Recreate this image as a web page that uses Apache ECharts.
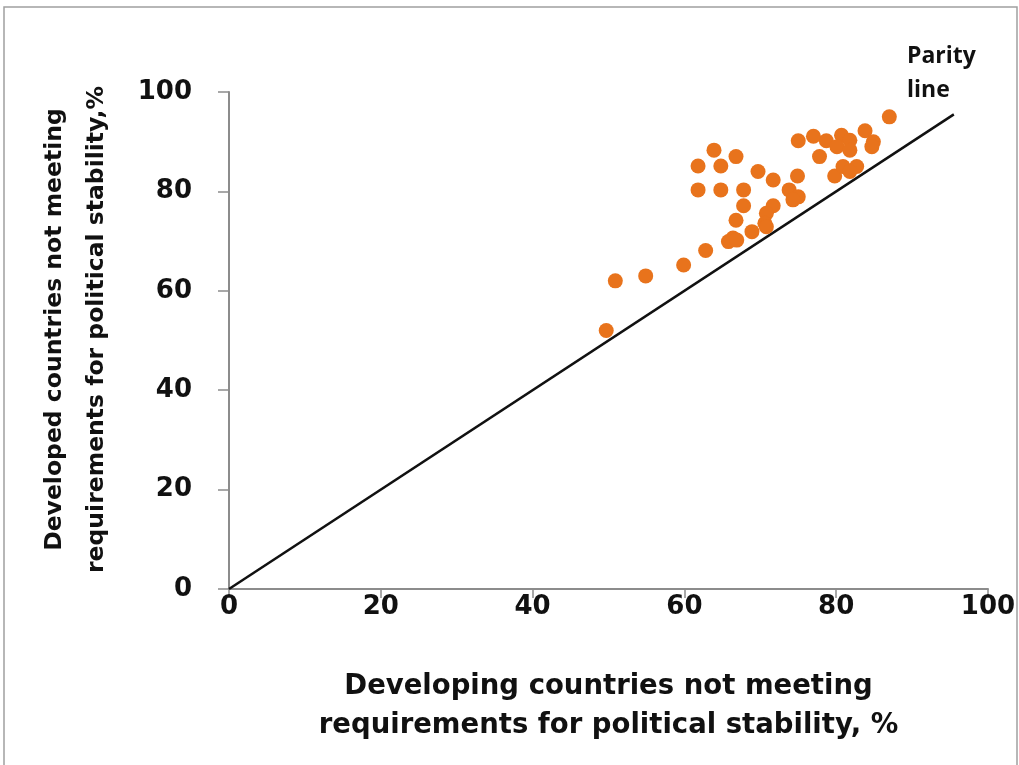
<!DOCTYPE html>
<html><head><meta charset="utf-8">
<script src="https://cdn.jsdelivr.net/npm/echarts@6/dist/echarts.min.js"></script>
<style>html,body{margin:0;padding:0;background:#fff}#c{width:1019px;height:765px}</style>
</head><body><div id="c"></div>
<script>
const developing = [87,75,77,78.7,80.7,81.8,83.8,84.9,84.7,80.1,81.8,77.8,79.8,80.9,82.7,81.8,74.9,63.9,66.8,61.8,64.8,69.7,71.7,61.8,64.8,67.8,73.8,75,74.3,67.8,71.7,70.8,66.8,70.6,70.8,68.9,66.4,65.8,66.9,62.8,59.9,54.9,50.9,49.7];
const developed  = [95,90.2,91.1,90.2,91.3,90.3,92.2,90,89,89,88.3,87,83.1,85,85,84,83.1,88.3,87,85.1,85.1,84,82.3,80.3,80.3,80.3,80.3,78.9,78.3,77.1,77.1,75.6,74.2,73.6,72.9,71.9,70.6,69.9,70.2,68.1,65.2,63,62,52];
const parityX = [0, 95.5];
const parityY = [0, 95.5];
const ticks = [0,20,40,60,80,100];
const xTitle = 'Developing countries not meeting\nrequirements for political stability, %';
const yTitle = 'Developed countries not meeting\nrequirements for political stability,%';
const parityLabel = 'Parity\nline';

const chart = echarts.init(document.getElementById('c'));
const font = '"Open Sans", Lato, sans-serif';
const tickFont = '"DejaVu Sans", sans-serif';
chart.setOption({
  animation:false,
  grid:{left:229,right:31,top:92,bottom:176,containLabel:false,outerBoundsMode:'none'},
  xAxis:{type:'value',min:0,max:100,interval:20,
    axisLine:{lineStyle:{color:'#8c8c8c',width:2}},
    axisTick:{show:true,length:9,lineStyle:{color:'#8c8c8c',width:1.5}},
    splitLine:{show:false},
    axisLabel:{color:'#111',fontSize:26,fontWeight:'bold',fontFamily:tickFont,margin:5},
    name:xTitle,nameLocation:'middle',nameGap:78,
    nameTextStyle:{color:'#111',fontSize:27.5,fontWeight:'bold',fontFamily:tickFont,lineHeight:39}},
  yAxis:{type:'value',min:0,max:100,interval:20,
    axisLine:{show:true,lineStyle:{color:'#8c8c8c',width:2}},
    axisTick:{show:true,length:11,lineStyle:{color:'#8c8c8c',width:1.5}},
    splitLine:{show:false},
    axisLabel:{color:'#111',fontSize:26,fontWeight:'bold',fontFamily:tickFont,margin:37},
    name:yTitle,nameLocation:'middle',nameGap:111,
    nameTextStyle:{color:'#111',fontSize:23.5,fontWeight:'bold',fontFamily:tickFont,lineHeight:42,padding:[0,0,0,22]}},
  graphic:[
    {type:'rect',shape:{x:4,y:7,width:1013,height:770},style:{fill:'none',stroke:'#a0a0a0',lineWidth:1.5}},
    {type:'text',left:907,top:39,style:{text:parityLabel,font:'bold 23px '+font,fill:'#111',lineHeight:34}}
  ],
  series:[
    {type:'line',data:parityX.map((v,i)=>[v,parityY[i]]),symbol:'none',
      lineStyle:{color:'#111',width:2.5},z:1},
    {type:'scatter',data:developing.map((v,i)=>[v,developed[i]]),symbolSize:15,
      itemStyle:{color:'#E8731C',opacity:1},z:3}
  ]
});
</script></body></html>
